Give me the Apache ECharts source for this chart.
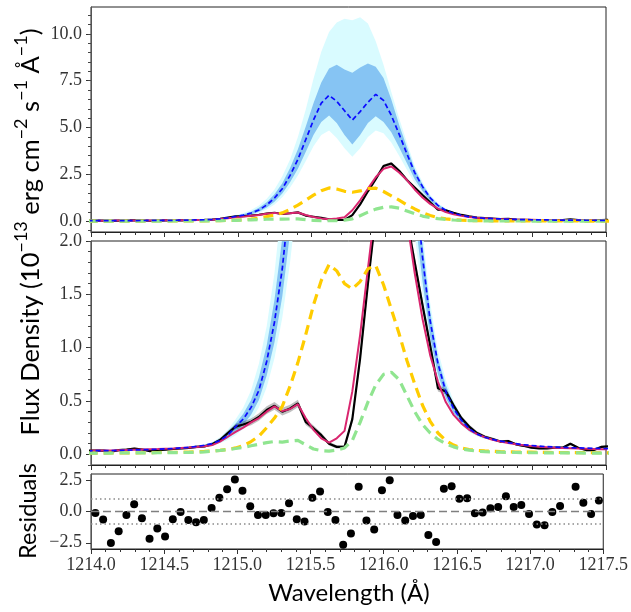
<!DOCTYPE html>
<html><head><meta charset="utf-8">
<script src="https://cdn.jsdelivr.net/npm/echarts@6/dist/echarts.min.js"></script>
<style>html,body{margin:0;padding:0;background:#fff}#c{width:631px;height:612px}</style>
</head><body><div id="c"></div>
<script>
// Wavelength grid (Å)
const wave = [1213.977,
 1214.030,1214.083,1214.136,1214.189,1214.242,1214.295,1214.348,1214.400,1214.453,1214.506,
 1214.559,1214.612,1214.665,1214.718,1214.771,1214.824,1214.877,1214.930,1214.983,1215.035,
 1215.088,1215.141,1215.194,1215.247,1215.300,1215.353,1215.406,1215.459,1215.512,1215.565,
 1215.618,1215.670,1215.723,1215.776,1215.829,1215.882,1215.935,1215.988,1216.041,1216.094,
 1216.147,1216.200,1216.253,1216.305,1216.358,1216.411,1216.464,1216.517,1216.570,1216.623,
 1216.676,1216.729,1216.782,1216.835,1216.888,1216.940,1216.993,1217.046,1217.099,1217.152,
 1217.205,1217.258,1217.311,1217.364,1217.417,1217.470,
 1217.523];
// Observed flux (black) and its error
const observed = [0.035,
 0.035,0.035,0.025,0.04,0.045,0.055,0.045,0.03,0.04,0.045,
 0.05,0.055,0.06,0.07,0.075,0.094,0.134,0.2,0.26,0.28,
 0.305,0.35,0.415,0.455,0.40,0.43,0.477,0.305,0.245,0.18,
 0.10,0.07,0.07,0.33,0.9,1.6,2.25,2.95,3.08,2.7,
 2.2,1.8,1.4,1.02,0.62,0.59,0.46,0.34,0.26,0.2,
 0.165,0.144,0.12,0.125,0.094,0.08,0.062,0.056,0.056,0.062,
 0.062,0.10,0.062,0.04,0.04,0.07,
 0.075];
const observedErr = [0.01,
 0.01,0.01,0.01,0.01,0.01,0.01,0.01,0.01,0.01,0.01,
 0.01,0.01,0.01,0.012,0.012,0.015,0.018,0.022,0.026,0.03,
 0.032,0.034,0.036,0.036,0.036,0.036,0.035,0.03,0.026,0.022,
 0.018,0.016,0.016,0.035,0.055,0.065,0.075,0.085,0.09,0.08,
 0.07,0.06,0.05,0.04,0.032,0.028,0.025,0.022,0.019,0.017,
 0.015,0.014,0.013,0.012,0.011,0.011,0.01,0.01,0.01,0.01,
 0.01,0.01,0.01,0.01,0.01,0.01,
 0.01];
// Best-fit model (magenta)
const model = [0.034,
 0.035,0.036,0.037,0.039,0.041,0.043,0.045,0.047,0.049,0.052,
 0.055,0.059,0.063,0.068,0.075,0.087,0.12,0.165,0.21,0.25,
 0.30,0.34,0.40,0.45,0.405,0.425,0.47,0.34,0.23,0.15,
 0.11,0.15,0.22,0.59,1.12,1.74,2.35,2.8,2.92,2.6,
 2.2,1.7,1.27,0.93,0.68,0.49,0.37,0.29,0.23,0.19,
 0.16,0.137,0.12,0.106,0.094,0.085,0.077,0.07,0.066,0.062,
 0.06,0.057,0.054,0.052,0.05,0.048,
 0.047];
// Reconstructed intrinsic profile (blue dashed) with 1σ / 2σ bands
const intrinsic = [0.033,
 0.034,0.034,0.035,0.037,0.039,0.041,0.043,0.045,0.048,0.051,
 0.055,0.06,0.066,0.074,0.085,0.1,0.13,0.18,0.26,0.33,
 0.44,0.6,0.87,1.24,1.74,2.45,3.3,4.35,5.4,6.3,
 6.72,6.4,5.9,5.4,5.85,6.35,6.77,6.45,5.65,4.65,
 3.6,2.6,1.85,1.25,0.85,0.59,0.43,0.32,0.24,0.19,
 0.16,0.14,0.125,0.11,0.1,0.09,0.083,0.077,0.072,0.068,
 0.065,0.062,0.06,0.058,0.056,0.055,
 0.054];
const sig1Upper = [null,
 null,null,null,null,null,null,null,null,null,null,
 null,null,null,null,0.09,0.108,0.145,0.2,0.29,0.38,
 0.51,0.72,1.02,1.45,2.03,2.85,3.85,5.05,6.3,7.4,
 8.15,8.35,8.1,7.92,8.2,8.42,8.25,7.65,6.5,5.15,
 3.95,2.78,1.98,1.34,0.9,0.65,0.47,0.35,0.26,0.2,
 0.17,null,null,null,null,null,null,null,null,null,
 null,null,null,null,null,null,
 null];
const sig1Lower = [null,
 null,null,null,null,null,null,null,null,null,null,
 null,null,null,null,0.08,0.093,0.117,0.15,0.21,0.28,
 0.37,0.51,0.74,1.05,1.48,2.08,2.8,3.7,4.6,5.3,
 5.65,5.25,4.6,4.1,4.6,5.25,5.6,5.3,4.75,3.95,
 3.1,2.25,1.62,1.1,0.75,0.53,0.39,0.29,0.22,0.18,
 0.15,null,null,null,null,null,null,null,null,null,
 null,null,null,null,null,null,
 null];
const sig2Upper = [null,
 null,null,null,null,null,null,null,null,null,null,
 null,null,null,null,0.095,0.115,0.16,0.23,0.33,0.44,
 0.6,0.85,1.2,1.7,2.4,3.3,4.5,5.95,7.6,9.05,
 10.1,10.6,10.8,10.73,10.88,10.55,9.6,8.35,6.9,5.5,
 4.2,2.95,2.1,1.42,0.97,0.7,0.5,0.36,0.27,0.21,
 0.17,null,null,null,null,null,null,null,null,null,
 null,null,null,null,null,null,
 null];
const sig2Lower = [null,
 null,null,null,null,null,null,null,null,null,null,
 null,null,null,null,0.075,0.088,0.105,0.135,0.18,0.24,
 0.32,0.44,0.63,0.9,1.28,1.8,2.45,3.2,4.0,4.6,
 4.85,4.45,3.9,3.45,3.9,4.5,4.85,4.7,4.2,3.5,
 2.75,2.05,1.5,1.02,0.7,0.5,0.37,0.28,0.21,0.17,
 0.14,null,null,null,null,null,null,null,null,null,
 null,null,null,null,null,null,
 null];
// Component profiles (yellow, green dashed)
const componentYellow = [0.012,
 0.012,0.012,0.013,0.013,0.014,0.014,0.015,0.016,0.017,0.018,
 0.019,0.02,0.022,0.024,0.027,0.031,0.037,0.046,0.06,0.08,
 0.12,0.17,0.25,0.34,0.45,0.64,0.86,1.12,1.4,1.63,
 1.78,1.72,1.6,1.55,1.62,1.74,1.77,1.59,1.36,1.13,
 0.88,0.66,0.46,0.31,0.2,0.13,0.087,0.06,0.045,0.037,
 0.032,0.028,0.025,0.023,0.022,0.021,0.02,0.019,0.018,0.017,
 0.017,0.016,0.016,0.015,0.015,0.015,
 0.014];
const componentGreen = [0.012,
 0.012,0.012,0.012,0.013,0.013,0.013,0.014,0.014,0.015,0.015,
 0.016,0.017,0.018,0.02,0.023,0.03,0.037,0.045,0.055,0.065,
 0.08,0.095,0.11,0.12,0.115,0.125,0.13,0.09,0.05,0.035,
 0.03,0.04,0.06,0.13,0.3,0.49,0.65,0.75,0.77,0.7,
 0.55,0.4,0.28,0.2,0.14,0.1,0.07,0.05,0.04,0.03,
 0.025,0.022,0.02,0.018,0.017,0.016,0.015,0.015,0.014,0.014,
 0.013,0.013,0.013,0.012,0.012,0.012,
 0.012];
// Residuals
const residuals = [null,
 -0.11,-0.64,-2.51,-1.58,-0.27,0.59,-0.53,-2.17,-1.36,-2.0,
 -0.61,-0.03,-0.67,-0.86,-0.67,0.29,1.10,1.79,2.57,1.66,
 0.43,-0.27,-0.27,-0.13,-0.11,0.67,-0.61,-0.80,1.10,1.60,
 -0.03,-0.67,-2.65,-1.76,1.98,-0.72,-1.44,1.71,2.51,-0.27,
 -0.72,-0.35,-0.27,-1.87,-2.43,1.82,2.03,1.02,1.07,-0.13,
 -0.08,0.27,0.37,1.23,0.37,0.53,-0.19,-1.04,-1.10,-0.03,
 0.45,3.1,1.98,0.70,-0.19,0.88,
 null];
const residLevelZero = [0];
const residLevelsDotted = [-1, 1];
// Axis ticks
const xRange = [1214.0, 1217.5];
const topTicks = [0, 2.5, 5.0, 7.5, 10.0];
const topMinor = [-0.5,0,0.5,1,1.5,2,2.5,3,3.5,4,4.5,5,5.5,6,6.5,7,7.5,8,8.5,9,9.5,10,10.5,11];
const midTicks = [0, 0.5, 1.0, 1.5, 2.0];
const midMinor = [-0.1,0,0.1,0.2,0.3,0.4,0.5,0.6,0.7,0.8,0.9,1.0,1.1,1.2,1.3,1.4,1.5,1.6,1.7,1.8,1.9,2.0];
const resTicks = [-2.5, 0, 2.5];

const C = {
  light: '#d9fbff', dark: '#86c4f3', blue: '#0a0aff', pink: '#d9266f',
  yellow: '#ffcc00', green: '#90e590', errBand: 'rgba(0,0,0,0.25)'
};
const SERIF = 'Liberation Serif';
const SANS = 'Lato';
const fmt = v => (v < 0 ? '\u2212' : '') + Math.abs(v).toFixed(1);
const pairs = ys => wave.map((x, i) => [x, ys[i] == null ? null : ys[i]]);

// filled band between lo and hi, drawn as one polygon through the axis scales
function bandSeries(g, lo, hi, color) {
  const idx = wave.map((x, i) => i).filter(i => lo[i] != null && hi[i] != null);
  return {
    type:'custom', xAxisIndex:g, yAxisIndex:g*2, silent:true,
    data: [[wave[idx[0]], lo[idx[0]]]],
    renderItem: (params, api) => {
      const up = idx.map(i => api.coord([wave[i], hi[i]]));
      const dn = idx.slice().reverse().map(i => api.coord([wave[i], lo[i]]));
      const cs = params.coordSys;
      return {type:'polygon', shape:{points: up.concat(dn)}, style:{fill: color, stroke:'none'},
        clipPath:{type:'rect', shape:{x:cs.x, y:cs.y, width:cs.width, height:cs.height}}};
    }
  };
}
function lineSeries(g, ys, color, width, dash) {
  return {type:'line', xAxisIndex:g, yAxisIndex:g*2, data:pairs(ys), symbol:'none', clip:true,
    lineStyle:{color:color, width:width, type: dash || 'solid', cap:'butt'}};
}
const errLo = observed.map((v, i) => v - observedErr[i]);
const errHi = observed.map((v, i) => v + observedErr[i]);

let series = [];
for (const g of [0, 1]) {
  series.push(bandSeries(g, sig2Lower, sig2Upper, C.light));
  series.push(bandSeries(g, sig1Lower, sig1Upper, C.dark));
  series.push(bandSeries(g, errLo, errHi, C.errBand));
  series.push(lineSeries(g, observed, '#000', 2.2));
  series.push(lineSeries(g, model, C.pink, 2));
  series.push(lineSeries(g, componentYellow, C.yellow, 3.2, [10, 6]));
  series.push(lineSeries(g, componentGreen, C.green, 3.2, [10, 6]));
  series.push(lineSeries(g, intrinsic, C.blue, 1.7, [5, 3]));
}
// residual panel
series.push({type:'line', xAxisIndex:2, yAxisIndex:4, symbol:'none',
  data: residLevelZero.flatMap(v => xRange.map(x => [x, v])),
  lineStyle:{color:'#7f7f7f', width:1.6, type:[8,4]}});
residLevelsDotted.forEach(v => series.push({type:'line', xAxisIndex:2, yAxisIndex:4, symbol:'none',
  data: xRange.map(x => [x, v]), lineStyle:{color:'#8a8a8a', width:1.3, type:[1.5,3]}}));
series.push({type:'scatter', xAxisIndex:2, yAxisIndex:4, symbol:'circle', symbolSize:8,
  itemStyle:{color:'#000', opacity:1}, data: pairs(residuals).filter(p => p[1] != null), clip:true});

const grids = [
  {left:91, top:7, width:515, height:225},
  {left:91, top:241, width:515, height:224},
  {left:91, top:474, width:515, height:75}
].map(g => Object.assign(g, {show:true, borderColor:'#222', borderWidth:1, backgroundColor:'transparent'}));

const xAxes = [0,1,2].map(g => ({
  type:'value', gridIndex:g, min:xRange[0], max:xRange[1], interval:0.5,
  axisLine:{show:true, onZero:false, lineStyle:{color:'#222'}},
  axisTick:{show:true, length:5, lineStyle:{color:'#333'}},
  minorTick:{show:true, splitNumber:5, length:3, lineStyle:{color:'#333'}},
  splitLine:{show:false},
  axisLabel:{show: g === 2, formatter: v => v.toFixed(1), fontFamily:SERIF, fontSize:18, color:'#333', margin:7}
}));
function yPair(g, min, max, ticks, minor) {
  return [
    {type:'value', gridIndex:g, min:min, max:max, position:'left',
     axisLine:{show:true, onZero:false, lineStyle:{color:'#555'}},
     axisTick:{show:true, customValues:ticks, length:5, lineStyle:{color:'#333'}},
     axisLabel:{show:true, customValues:ticks, formatter: fmt, fontFamily:SERIF, fontSize:18, color:'#333', margin:9},
     splitLine:{show:false}},
    {type:'value', gridIndex:g, min:min, max:max, position:'left',
     axisLine:{show:false},
     axisTick:{show:!!minor, customValues:minor || [], length:3, lineStyle:{color:'#444'}},
     axisLabel:{show:false}, splitLine:{show:false}}
  ];
}
const yAxes = [].concat(
  yPair(0, -0.57, 11.43, topTicks, topMinor),
  yPair(1, -0.1, 2.0, midTicks, midMinor),
  yPair(2, -3, 3, resTicks, null)
);

const chart = echarts.init(document.getElementById('c'), null, {renderer:'canvas'});
chart.setOption({
  animation:false,
  backgroundColor:'#fff',
  grid: grids,
  xAxis: xAxes,
  yAxis: yAxes,
  series: series,
  graphic: [
    {type:'text', x:28, y:232, rotation:Math.PI/2, z:100,
     style:{
       text:'{n|Flux Density (10}{s|\u221213}{n| erg cm}{s|\u22122}{n| s}{s|\u22121}{n| \u00c5}{s|\u22121}{n|)}',
       align:'center', verticalAlign:'middle', textAlign:'center', textVerticalAlign:'middle',
       rich:{
         n:{fontFamily:SANS, fontSize:25.5, lineHeight:32, verticalAlign:'bottom', fill:'#000', color:'#000'},
         s:{fontFamily:SANS, fontSize:18, lineHeight:32, verticalAlign:'top', fill:'#000', color:'#000'}
       }
     }},
    {type:'text', x:28, y:511, rotation:Math.PI/2, z:100,
     style:{text:'Residuals', font:'23.5px ' + SANS, fill:'#000', align:'center', verticalAlign:'middle',
       textAlign:'center', textVerticalAlign:'middle'}},
    {type:'text', x:349, y:593, z:100,
     style:{text:'Wavelength (\u00c5)', font:'24px ' + SANS, fill:'#000', align:'center', verticalAlign:'middle',
       textAlign:'center', textVerticalAlign:'middle'}}
  ]
});
</script></body></html>
